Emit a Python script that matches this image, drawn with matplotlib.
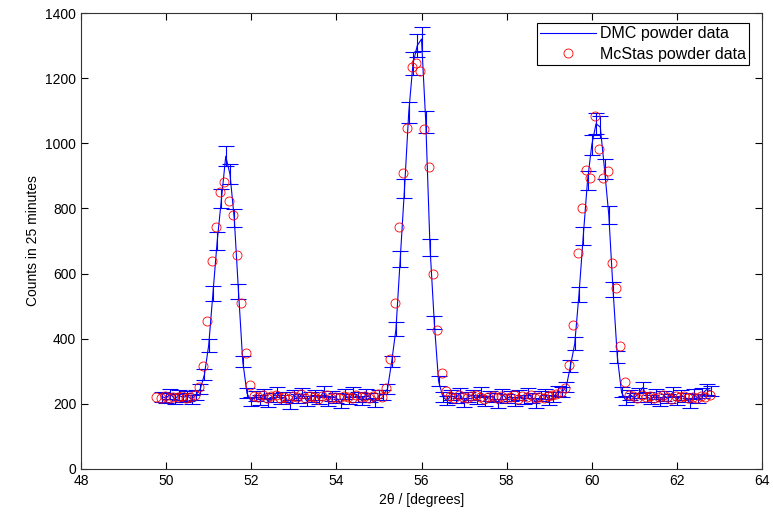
import numpy as np
import matplotlib
matplotlib.use('Agg')
import matplotlib.pyplot as plt

plt.rcParams['font.family'] = ['Liberation Sans', 'DejaVu Sans']

# DMC measured powder data, 2theta grid 49.9 .. 62.8 in 0.1 deg steps
dmc_start, dmc_step = 49.9, 0.1
dmc_counts = [
    222, 218, 230, 215, 226, 220, 224, 214, 228,
    245, 290, 380, 540, 700, 830, 960, 905, 770, 545, 330, 232, 208,
    225, 212, 230, 205, 219, 236, 214, 222, 198, 228, 216, 233, 209, 221, 226,
    213, 240, 207, 224, 218, 201, 229, 215, 236, 222, 210, 231, 219, 204, 226,
    228, 245, 330, 430, 645, 860, 1095, 1245, 1300, 1320, 1065, 680, 450, 270, 222,
    210, 226, 218, 232, 205, 221, 228, 214, 236, 209, 224, 219, 200, 230, 216,
    223, 207, 227, 213, 234, 218, 203, 225, 229, 212, 221, 238,
    235, 252, 317, 385, 537, 715, 885, 995, 1060, 1050, 920, 780, 550, 345, 235, 210,
    228, 219, 232, 250, 221, 214, 230, 208, 224, 217, 235, 211, 226, 220, 203,
    229, 216, 232, 244, 240,
]

# McStas simulated powder data, 2theta grid 49.77 .. 62.77
mcs_start, mcs_step = 49.77, 0.1
mcs_counts = [
    221, 219, 224, 218, 222, 220, 223, 217, 221, 226,
    253, 316, 455, 639, 742, 850, 882, 823, 780, 658, 511, 357, 258, 225,
    220, 226, 218, 223, 228, 219, 222, 216, 225, 221, 229, 218, 224, 220, 215,
    223, 227, 219, 222, 217, 225, 221, 218, 226, 220, 223, 219, 224, 230, 222,
    248, 337, 509, 744, 908, 1048, 1233, 1248, 1223, 1043, 928, 598, 427, 294, 240,
    224, 219, 226, 221, 217, 223, 228, 220, 215, 222, 225, 219, 224, 218, 221,
    227, 216, 223, 220, 226, 218, 222, 219, 225, 228, 231, 237,
    248, 319, 442, 662, 802, 918, 892, 1084, 982, 894, 915, 633, 555, 379, 268, 228,
    223, 219, 226, 221, 224, 218, 222, 227, 220, 216, 223, 221, 225, 218, 222,
    219, 224, 220, 226,
]

dmc_y = np.array(dmc_counts, dtype=float)
dmc_x = dmc_start + dmc_step * np.arange(len(dmc_y))
dmc_err = np.sqrt(dmc_y)  # counting statistics
mcs_y = np.array(mcs_counts, dtype=float)
mcs_x = mcs_start + mcs_step * np.arange(len(mcs_y))

fig = plt.figure(figsize=(7.73, 5.12), dpi=100)
ax = fig.add_axes([0.1048, 0.084, 0.881, 0.8906])

ax.errorbar(dmc_x, dmc_y, yerr=dmc_err, fmt='none', ecolor='blue',
            elinewidth=0.8, capsize=6, capthick=0.8)
ax.plot(dmc_x, dmc_y, color='blue', linewidth=0.8, label='DMC powder data')
ax.plot(mcs_x, mcs_y, linestyle='none', marker='o', markersize=6.5,
        markerfacecolor='none', markeredgecolor='red', markeredgewidth=0.6,
        label='McStas powder data')

ax.set_xlim(48, 64)
ax.set_ylim(0, 1400)
ax.set_xticks(np.arange(48, 65, 2))
ax.set_yticks(np.arange(0, 1401, 200))
ax.tick_params(direction='in', top=True, right=True, labelsize=10, length=5)
for s in ax.spines.values():
    s.set_linewidth(0.8)
    s.set_color('#333333')

ax.set_xlabel('2θ / [degrees]', fontsize=10)
ax.set_ylabel('Counts in 25 minutes', fontsize=10)

leg = ax.legend(loc='upper right', bbox_to_anchor=(0.9805, 0.978),
                bbox_transform=ax.transAxes, fontsize=11.5,
                handlelength=3.45, handletextpad=0.25, borderaxespad=0,
                fancybox=False, framealpha=1, edgecolor='black',
                borderpad=0.2, labelspacing=0.35)
leg.get_frame().set_linewidth(0.8)

fig.savefig('out.png', dpi=100)
